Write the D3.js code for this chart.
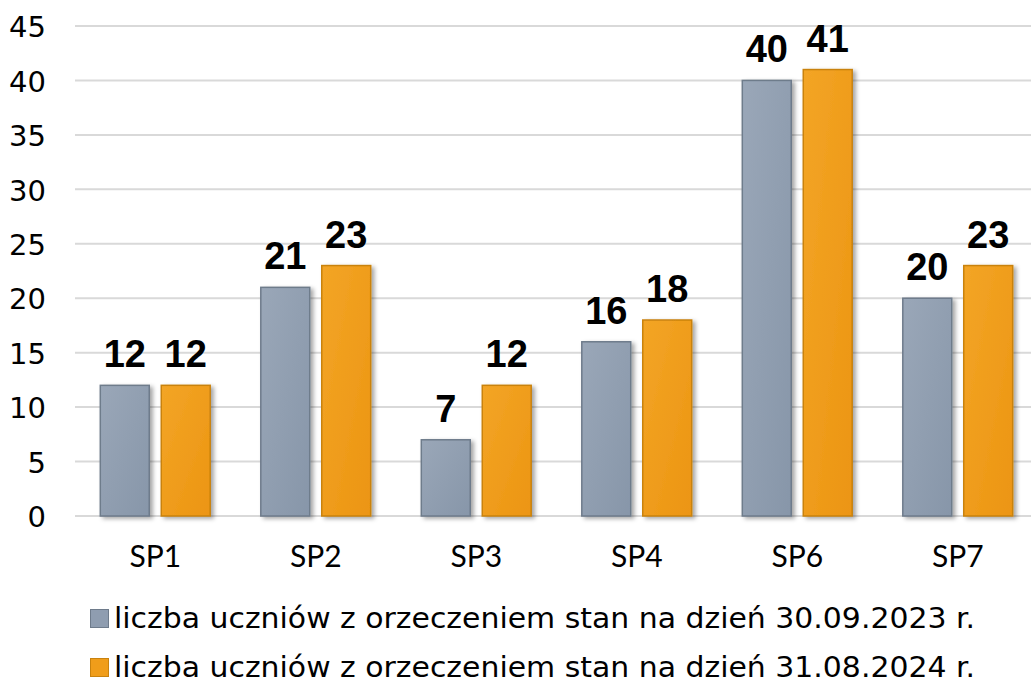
<!DOCTYPE html>
<html>
<head>
<meta charset="utf-8">
<script src="https://cdn.jsdelivr.net/npm/d3@7"></script>
<style>
  body { margin: 0; background: #fff; }
  svg { display: block; }
</style>
</head>
<body>
<div id="chart"></div>
<script>
// dane z wykresu
var categories = ['SP1', 'SP2', 'SP3', 'SP4', 'SP6', 'SP7'];
var series2023 = [12, 21, 7, 16, 40, 20];
var series2024 = [12, 23, 12, 18, 41, 23];
var seriesNames = [
    'liczba uczniów z orzeczeniem stan na dzień 30.09.2023 r.',
    'liczba uczniów z orzeczeniem stan na dzień 31.08.2024 r.'
];
var yTicks = [0, 5, 10, 15, 20, 25, 30, 35, 40, 45];

function drawBarChart(){
    var width = 1033, height = 685;
    var left = 75, right = 1038, top = 26, bottom = 516;

    var svg = d3.select('#chart')
        .append('svg')
        .attr('width', width)
        .attr('height', height);

    var defs = svg.append('defs');
    var gGray = defs.append('linearGradient').attr('id', 'gGray')
        .attr('x1', 0).attr('y1', 0).attr('x2', 1).attr('y2', 1);
    gGray.append('stop').attr('offset', '0%').attr('stop-color', '#9aa7b8');
    gGray.append('stop').attr('offset', '100%').attr('stop-color', '#8796a9');
    var gOr = defs.append('linearGradient').attr('id', 'gOr')
        .attr('x1', 0).attr('y1', 0).attr('x2', 1).attr('y2', 1);
    gOr.append('stop').attr('offset', '0%').attr('stop-color', '#f3a526');
    gOr.append('stop').attr('offset', '100%').attr('stop-color', '#ec9512');
    var sh = defs.append('filter').attr('id', 'shadow')
        .attr('x', '-20%').attr('y', '-10%').attr('width', '150%').attr('height', '130%');
    sh.append('feDropShadow').attr('dx', 3).attr('dy', 2).attr('stdDeviation', 2)
        .attr('flood-color', '#000').attr('flood-opacity', 0.35);

    var x = d3.scaleBand()
        .domain(categories)
        .range([left, right]);

    var x1 = d3.scaleBand()
        .domain([0, 1])
        .range([0, x.bandwidth()])
        .paddingInner(0.197)
        .paddingOuter(0.415);

    var y = d3.scaleLinear()
        .domain([0, 45])
        .range([bottom, top]);

    // siatka
    svg.append('g')
        .selectAll('line')
        .data(yTicks)
        .enter()
        .append('line')
        .attr('x1', left)
        .attr('x2', 1031)
        .attr('y1', function(d){ return y(d); })
        .attr('y2', function(d){ return y(d); })
        .attr('stroke', '#d9d9d9')
        .attr('stroke-width', 2);

    // oś Y
    var yAxis = svg.append('g')
        .attr('transform', 'translate(46,0)')
        .call(d3.axisLeft(y).tickValues(yTicks).tickSize(0).tickPadding(0));
    yAxis.select('.domain').remove();
    yAxis.selectAll('text')
        .attr('font-family', 'DejaVu Sans, sans-serif')
        .attr('font-size', 29)
        .attr('dy', '0.37em')
        .attr('fill', '#000');

    // oś X
    var xAxis = svg.append('g')
        .attr('transform', 'translate(0,' + bottom + ')')
        .call(d3.axisBottom(x).tickSize(0).tickPadding(0));
    xAxis.select('.domain').remove();
    xAxis.selectAll('text')
        .attr('font-family', 'Lato, sans-serif')
        .attr('font-size', 30)
        .attr('y', 51)
        .attr('dy', 0)
        .attr('fill', '#000');

    var seriesData = [series2023, series2024];
    var fills = ['url(#gGray)', 'url(#gOr)'];
    var strokes = ['#6e7b8b', '#c9820e'];

    seriesData.forEach(function(vals, s){
        var g = svg.append('g');
        g.selectAll('rect')
            .data(vals)
            .enter()
            .append('rect')
            .attr('x', function(d, i){ return x(categories[i]) + x1(s); })
            .attr('width', x1.bandwidth())
            .attr('y', function(d){ return y(d); })
            .attr('height', function(d){ return y(0) - y(d); })
            .attr('fill', fills[s])
            .attr('stroke', strokes[s])
            .attr('stroke-width', 1.5)
            .attr('filter', 'url(#shadow)');

        g.selectAll('text')
            .data(vals)
            .enter()
            .append('text')
            .attr('x', function(d, i){ return x(categories[i]) + x1(s) + x1.bandwidth() / 2; })
            .attr('y', function(d){ return y(d) - 18; })
            .attr('text-anchor', 'middle')
            .attr('font-family', 'Liberation Sans, Arial, sans-serif')
            .attr('font-weight', 'bold')
            .attr('font-size', 38)
            .attr('fill', '#000')
            .text(function(d){ return d; });
    });

    // legenda
    var legendFills = ['#8f9db0', '#f09d1a'];
    var legend = svg.append('g');
    seriesNames.forEach(function(name, i){
        var base = 628 + i * 49;
        legend.append('rect')
            .attr('x', 90.5).attr('y', base - 18.5)
            .attr('width', 18).attr('height', 18)
            .attr('fill', legendFills[i])
            .attr('stroke', strokes[i])
            .attr('stroke-width', 1);
        legend.append('text')
            .attr('x', 114)
            .attr('y', base)
            .attr('font-family', 'DejaVu Sans, sans-serif')
            .attr('font-size', 28)
            .attr('textLength', 861)
            .attr('lengthAdjust', 'spacingAndGlyphs')
            .attr('fill', '#000')
            .text(name);
    });
}

drawBarChart();
</script>
</body>
</html>
